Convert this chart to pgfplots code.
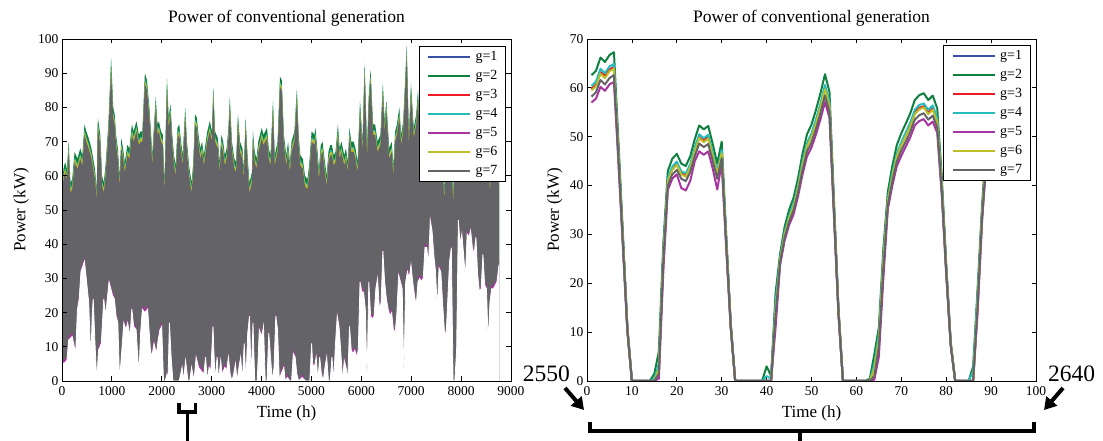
\documentclass[border=0pt]{standalone}
\usepackage{fontspec}
\setmainfont{Liberation Serif}
\usepackage{pgfplots}
\pgfplotsset{compat=1.18}
\usepackage{pgfplotstable}
\usetikzlibrary{arrows.meta}

\definecolor{cA}{RGB}{56,80,168}
\definecolor{cB}{RGB}{16,128,64}
\definecolor{cC}{RGB}{237,28,36}
\definecolor{cD}{RGB}{38,188,188}
\definecolor{cE}{RGB}{168,52,160}
\definecolor{cF}{RGB}{190,190,40}
\definecolor{cG}{RGB}{100,100,104}

\newcommand{\tickfont}{\fontsize{13.5bp}{15bp}\selectfont}
\newcommand{\labfont}{\fontsize{17bp}{20bp}\selectfont}
\newcommand{\titfont}{\fontsize{17.5bp}{20bp}\selectfont}
\newcommand{\legfont}{\fontsize{14bp}{16bp}\selectfont}
\newcommand{\bigfont}{\fontsize{23.5bp}{26bp}\selectfont}

% upper envelope of the 8760-h series: G=g2 (green), C=g4 (cyan), Y=g6 (yellow), K=g7 (grey)
\pgfplotstableread{
t G C Y K
0 55 53.4 53 52
28 62 60.4 60 59
63 64 62.4 62 61
99 62 60.4 60 59
134 70 68.4 68 67
169 58 56.4 56 55
204 59 57.4 57 56
253 67 65.4 65 64
310 65 63.4 63 62
366 68 66.4 66 65
408 66 64.4 64 63
450 75 73.4 73 72
486 73 71.4 71 70
535 71 69.4 69 68
591 68 66.4 66 65
626 65 63.4 63 62
661 62 60.4 60 59
697 56 54.4 54 53
718 77 75.4 75 74
767 72 70.4 70 69
802 60 58.4 58 57
837 58 56.4 56 55
873 63 61.4 61 60
929 75 73.4 73 72
985 94.5 92.4 91.9 90.5
1027 80 78.4 78 77
1056 78 76.4 76 75
1084 72 70.4 70 69
1119 68 66.4 66 65
1154 60 58.4 58 57
1189 71 69.4 69 68
1224 68 66.4 66 65
1260 64 62.4 62 61
1309 69 67.4 67 66
1351 68 66.4 66 65
1400 75 73.4 73 72
1436 73 71.4 71 70
1492 76 74.4 74 73
1541 72 70.4 70 69
1576 73 71.4 71 70
1611 73 71.4 71 70
1661 90 88.4 88 87
1703 88 86.4 86 85
1752 80 78.4 78 77
1787 72 70.4 70 69
1808 66 64.4 64 63
1837 73 71.4 71 70
1879 83 81.4 81 80
1914 75 73.4 73 72
1942 76 74.4 74 73
1984 73 71.4 71 70
2020 72 70.4 70 69
2055 58 56.4 56 55
2104 88.5 86.9 86.5 85.5
2139 77 75.4 75 74
2174 81 79.4 79 78
2210 72 70.4 70 69
2245 66 64.4 64 63
2280 63 61.4 61 60
2315 74 72.4 72 71
2350 75 73.4 73 72
2386 70 68.4 68 67
2421 66 64.4 64 63
2470 80 78.4 78 77
2505 70 68.4 68 67
2547 63 61.4 61 60
2597 58 56.4 56 55
2632 64 62.4 62 61
2667 78 76.4 76 75
2702 77 75.4 75 74
2737 72 70.4 70 69
2773 68 66.4 66 65
2808 70 68.4 68 67
2843 66 64.4 64 63
2913 73 71.4 71 70
2963 76 74.4 74 73
3005 73 71.4 71 70
3033 86 84.4 84 83
3068 73 71.4 71 70
3124 71 69.4 69 68
3160 64 62.4 62 61
3195 72 70.4 70 69
3230 70 68.4 68 67
3265 66 64.4 64 63
3300 68 66.4 66 65
3336 74 72.4 72 71
3364 83 81.4 81 80
3406 70 68.4 68 67
3455 65 63.4 63 62
3490 64 62.4 62 61
3526 78 76.4 76 75
3568 70 68.4 68 67
3617 68 66.4 66 65
3645 62 60.4 60 59
3680 77 75.4 75 74
3723 65 63.4 63 62
3758 58 56.4 56 55
3807 61 59.4 59 58
3828 73 71.4 71 70
3863 67 65.4 65 64
3899 65 63.4 63 62
3934 70 68.4 68 67
3969 72 70.4 70 69
4004 74 72.4 72 71
4039 72 70.4 70 69
4074 73 71.4 71 70
4110 74 72.4 72 71
4145 68 66.4 66 65
4180 66 64.4 64 63
4229 82 80.4 80 79
4264 66 64.4 64 63
4321 70 68.4 68 67
4370 89 87.4 87 86
4405 88 86.4 86 85
4447 72 70.4 70 69
4497 66 64.4 64 63
4532 70 68.4 68 67
4567 64 62.4 62 61
4602 70 68.4 68 67
4659 73 71.4 71 70
4708 85.5 83.9 83.5 82.5
4743 72 70.4 70 69
4778 66 64.4 64 63
4827 65 63.4 63 62
4870 60 58.4 58 57
4919 59 57.4 57 56
4954 63 61.4 61 60
5003 73 71.4 71 70
5060 72 70.4 70 69
5081 74 72.4 72 71
5116 68 66.4 66 65
5151 62 60.4 60 59
5187 69 67.4 67 66
5222 70 68.4 68 67
5271 64 62.4 62 61
5306 60 58.4 58 57
5341 67 65.4 65 64
5376 69 67.4 67 66
5411 69 67.4 67 66
5447 66 64.4 64 63
5482 67 65.4 65 64
5531 75 73.4 73 72
5566 68 66.4 66 65
5601 70 68.4 68 67
5658 66 64.4 64 63
5693 68 66.4 66 65
5728 64 62.4 62 61
5763 74 72.4 72 71
5798 70 68.4 68 67
5848 70 68.4 68 67
5883 68 66.4 66 65
5925 64 62.4 62 61
5974 82 80.4 80 79
6024 70 68.4 68 67
6066 93 91.4 91 90
6115 68 66.4 66 65
6150 84 82.4 82 81
6186 91 89.4 89 88
6235 75 73.4 73 72
6277 75 73.4 73 72
6326 70 68.4 68 67
6383 72 70.4 70 69
6432 87 85.4 85 84
6467 76 74.4 74 73
6502 82 80.4 80 79
6558 68 66.4 66 65
6608 70 68.4 68 67
6643 63 61.4 61 60
6678 73 71.4 71 70
6713 75 73.4 73 72
6762 80 78.4 78 77
6798 72 70.4 70 69
6840 76 74.4 74 73
6910 98 96.4 96 95
6953 72 70.4 70 69
6995 87 85.4 85 84
7051 74 72.4 72 71
7100 78 76.4 76 75
7136 85 83.4 83 82
7171 75 73.4 73 72
7206 74 72.4 72 71
7241 70 68.4 68 67
7276 62 60.4 60 59
7311 75 73.4 73 72
7347 66 64.4 64 63
7382 72 70.4 70 69
7417 64 62.4 62 61
7452 78 76.4 76 75
7487 68 66.4 66 65
7522 73 71.4 71 70
7558 65 63.4 63 62
7593 70 68.4 68 67
7628 66 64.4 64 63
7663 56 54.4 54 53
7698 68 66.4 66 65
7734 74 72.4 72 71
7769 64 62.4 62 61
7804 70 68.4 68 67
7839 55 53.4 53 52
7874 66 64.4 64 63
7910 72 70.4 70 69
7945 80 78.4 78 77
7980 70 68.4 68 67
8015 76 74.4 74 73
8050 68 66.4 66 65
8086 72 70.4 70 69
8121 63 61.4 61 60
8156 74 72.4 72 71
8191 69 67.4 67 66
8226 77 75.4 75 74
8261 66 64.4 64 63
8297 72 70.4 70 69
8332 64 62.4 62 61
8367 70 68.4 68 67
8402 75 73.4 73 72
8437 68 66.4 66 65
8473 72 70.4 70 69
8508 63 61.4 61 60
8543 70 68.4 68 67
8578 58 56.4 56 55
8613 68 66.4 66 65
8649 72 70.4 70 69
8684 65 63.4 63 62
8719 70 68.4 68 67
8760 60 58.4 58 57
}\upenv

% lower envelope: L=g7 (grey), M=g5 (magenta)
\pgfplotstableread{
t L M
0 7 6
28 6 5
99 7 6
134 13 12
204 14 13
274 9 8
310 22 21
345 25 24
380 33 32
450 36 35
486 31 30
535 24 23
577 7 6
605 20 19
626 25 24
661 12 11
697 0 0
732 10 9
788 12 11
837 25 24
873 20 19
908 25 24
943 30 29
978 28 27
1013 26 25
1049 25 24
1084 20 19
1119 18 17
1154 0 0
1239 18 17
1281 16 15
1316 18 17
1365 14 13
1400 22 21
1436 17 16
1485 16 15
1541 3 2
1576 15 14
1611 22 21
1661 21 20
1717 22 21
1773 10 9
1801 8 7
1844 12 11
1893 9 8
1928 13 12
1963 16 15
1999 17 16
2034 0 0
2069 0 0
2104 3 2
2125 0 0
2153 18 17
2188 8 7
2224 0 0
2259 0 0
2315 0 0
2350 0 0
2407 5 4
2435 0 0
2477 7 6
2526 0 0
2561 0 0
2597 5 4
2646 0 0
2688 8 7
2737 5 4
2787 4 3
2843 3 2
2878 8 7
2913 0 0
2949 5 4
2984 4 3
3026 17 16
3068 0 0
3110 8 7
3138 0 0
3181 7 6
3209 3 2
3265 5 4
3300 4 3
3336 8 7
3371 3 2
3406 0 0
3441 3 2
3476 6 5
3511 0 0
3547 5 4
3582 8 7
3617 0 0
3652 12 11
3687 0 0
3723 15 14
3758 20 19
3793 0 0
3828 18 17
3863 0 0
3913 0 0
3955 16 15
4004 14 13
4039 17 16
4074 0 0
4110 0 0
4145 15 14
4180 8 7
4215 0 0
4250 5 4
4286 20 19
4321 16 15
4356 0 0
4391 3 2
4447 5 4
4475 0 0
4518 2 1
4567 0 0
4602 0 0
4637 9 8
4673 8 7
4708 3 2
4743 0 0
4813 2 1
4884 0 0
4968 0 0
5003 12 11
5024 6 5
5060 5 4
5095 8 7
5130 0 0
5165 8 7
5200 3 2
5236 0 0
5271 5 4
5306 8 7
5341 0 0
5376 0 0
5411 8 7
5447 0 0
5482 12 11
5517 20 19
5552 17 16
5587 10 9
5623 0 0
5658 7 6
5693 5 4
5728 0 0
5763 17 16
5798 10 9
5834 9 8
5869 10 9
5904 8 7
5939 10 9
5974 30 29
6010 27 26
6045 27 26
6080 22 21
6115 0 0
6150 30 29
6186 20 19
6221 19 18
6256 20 19
6291 28 27
6326 31 30
6361 22 21
6397 24 23
6432 39 38
6467 30 29
6502 25 24
6537 22 21
6573 20 19
6608 21 20
6643 16 15
6678 15 14
6713 21 20
6748 32 31
6784 30 29
6819 28 27
6854 2 1
6889 30 29
6925 33 32
6960 31 30
6995 35 34
7030 30 29
7065 26 25
7100 23 22
7136 30 29
7171 31 30
7206 30 29
7241 31 30
7276 40 39
7311 40 39
7347 35 34
7382 48 47
7417 45 44
7452 38 37
7487 33 32
7522 22 21
7558 34 33
7593 33 32
7628 24 23
7663 16 15
7698 14 13
7734 25 24
7769 36 35
7804 40 39
7839 0 0
7874 0 0
7910 10 9
7945 48 47
7980 41 40
8015 44 43
8050 38 37
8086 31 30
8121 44 43
8156 43 42
8191 45 44
8226 40 39
8261 38 37
8297 43 42
8332 32 31
8367 27 26
8402 28 27
8437 38 37
8473 29 28
8508 28 27
8543 12 11
8578 24 23
8613 28 27
8649 28 27
8684 29 28
8719 30 29
8760 35 34
}\lowenv

% hours 2550-2640
\pgfplotstableread{
x g1 g2 g3 g4 g5 g6 g7
1 59.8 62.6 59.8 60.4 57.0 59.5 58.2
2 60.6 63.5 60.6 61.3 57.8 60.3 59.1
3 63.2 66.2 63.2 63.9 60.2 62.9 61.6
4 62.4 65.3 62.4 63.0 59.4 62.0 60.7
5 63.7 66.7 63.7 64.4 60.7 63.4 62.0
6 64.3 67.3 64.3 64.9 61.2 63.9 62.6
7 46.8 49 46.8 47.3 44.6 46.6 45.6
8 28.7 30 28.7 29.0 27.3 28.5 27.9
9 10.5 11 10.5 10.6 10.0 10.5 10.2
10 0 0 0 0 0 0 0
11 0 0 0 0 0 0 0
12 0 0 0 0 0 0 0
13 0 0 0 0 0 0 0
14 0 0 0 0 0 0 0
15 0 1.5 0 0.5 0 0 0
16 2.5 6 2.5 3.5 0.5 2.5 1.5
17 26 28 26 26.5 22.5 25.5 24.5
18 41.1 43 41.1 41.5 39.1 40.9 40.0
19 43.5 45.5 43.5 43.9 41.4 43.2 42.3
20 44.4 46.5 44.4 44.9 42.3 44.2 43.2
21 42.5 44.5 42.5 42.9 39.5 42.3 41.4
22 42.0 44 42.0 42.5 39.0 41.8 40.9
23 43.9 46 43.9 44.4 41.0 43.7 42.8
24 47.3 49.5 47.3 47.8 45.0 47.0 46.0
25 49.9 52.3 49.9 50.5 47.0 49.7 48.6
26 49.2 51.5 49.2 49.7 46.3 48.9 47.9
27 49.9 52.2 49.9 50.4 47.0 49.6 48.5
28 46.3 48.5 46.3 46.8 43.5 46.1 45.1
29 42.5 44.5 42.5 42.9 39.2 42.3 41.4
30 46.8 49 46.8 47.3 44.6 46.6 45.6
31 28.7 30 28.7 29.0 27.3 28.5 27.9
32 11.5 12 11.5 11.6 10.9 11.4 11.2
33 0 0 0 0 0 0 0
34 0 0 0 0 0 0 0
35 0 0 0 0 0 0 0
36 0 0 0 0 0 0 0
37 0 0 0 0 0 0 0
38 0 0 0 0 0 0 0
39 0 0 0 0 0 0 0
40 0 3 0 1 0 0 0
41 0 1 0 0.5 0 0 0
42 15 18 15 16 11 14.5 13.5
43 24.8 26 24.8 25.1 23.7 24.7 24.2
44 30.1 31.5 30.1 30.4 28.7 29.9 29.3
45 33.4 35 33.4 33.8 31.9 33.3 32.6
46 35.8 37.5 35.8 36.2 34.1 35.6 34.9
47 39.6 41.5 39.6 40.0 37.8 39.4 38.6
48 44.4 46.5 44.4 44.9 42.3 44.2 43.2
49 48.2 50.5 48.2 48.7 46.0 48.0 47.0
50 50.1 52.5 50.1 50.7 47.8 49.9 48.8
51 53.0 55.5 53.0 53.6 50.5 52.7 51.6
52 56.2 58.9 56.2 56.8 53.6 56.0 54.8
53 60.0 62.8 60.0 60.6 57.1 59.7 58.4
54 56.5 59.2 56.5 57.1 53.9 56.2 55.1
55 35.3 37 35.3 35.7 33.7 35.2 34.4
56 14.3 15 14.3 14.5 13.7 14.3 14.0
57 0 0 0 0 0 0 0
58 0 0 0 0 0 0 0
59 0 0 0 0 0 0 0
60 0 0 0 0 0 0 0
61 0 0 0 0 0 0 0
62 0 0 0 0 0 0 0
63 0 0.5 0 0 0 0 0
64 2.5 5.5 2.5 3.5 0.3 2.5 1
65 9 11 9 9.5 5 8.5 7
66 25 27 25 25.5 21 24.5 23
67 37.0 38.7 37.0 37.3 35.2 36.8 36.0
68 42.0 44 42.0 42.5 40.0 41.8 40.9
69 46.1 48.3 46.1 46.6 44.0 45.9 44.9
70 48.4 50.7 48.4 48.9 46.1 48.2 47.2
71 50.3 52.7 50.3 50.9 48.0 50.1 49.0
72 52.3 54.8 52.3 52.9 49.9 52.1 51.0
73 54.9 57.5 54.9 55.5 52.3 54.6 53.5
74 55.9 58.5 55.9 56.5 53.2 55.6 54.4
75 56.2 58.9 56.2 56.8 53.6 56.0 54.8
76 54.9 57.5 54.9 55.5 52.3 54.6 53.5
77 55.8 58.4 55.8 56.4 53.1 55.5 54.3
78 53.3 55.8 53.3 53.8 50.8 53.0 51.9
79 40.1 42 40.1 40.5 38.2 39.9 39.1
80 22.9 24 22.9 23.2 21.8 22.8 22.3
81 7.6 8 7.6 7.7 7.3 7.6 7.4
82 0 0 0 0 0 0 0
83 0 0 0 0 0 0 0
84 0 0 0 0 0 0 0
85 0 0 0 0 0 0 0
86 0 3 0 2 0 0 0
87 17 19 17 18 14 16.5 15.5
88 34.4 36 34.4 34.7 32.8 34.2 33.5
89 47.8 50 47.8 48.3 45.5 47.5 46.5
90 57.3 60 57.3 57.9 54.6 57.0 55.8
}\zoomdata

\pgfplotsset{
  myax/.style={
    scale only axis, width=449bp, height=342bp, anchor=south west,
    axis line style={line width=0.9bp, black},
    tick align=inside, tick pos=both, major tick length=4.5bp,
    tick style={black, line width=0.8bp},
    tick label style={font=\tickfont},
    /pgf/number format/assume math mode=true,
    /pgf/number format/set thousands separator={},
    scaled ticks=false,
    xticklabel style={yshift=-2.2bp},
    title style={at={(axis description cs:0.5,1)}, anchor=base, yshift=10.7bp, inner sep=0pt, font=\titfont},
    xlabel style={at={(axis description cs:0.5,0)}, anchor=base, yshift=-36.3bp, inner sep=0pt, font=\labfont},
    ylabel style={anchor=base, inner sep=0pt, font=\labfont},
    title={Power of conventional generation},
    xlabel={Time (h)}, ylabel={Power (kW)},
    legend cell align=left,
    legend style={draw=black, line width=1.2bp, fill=white, font=\legfont, anchor=north east,
       inner xsep=8bp, inner ysep=4bp, row sep=6bp,
       nodes={inner sep=0pt, text height=9.5bp, text depth=3.5bp},
       /tikz/every odd column/.append style={column sep=4.4bp}},
    legend image code/.code={\draw[#1, line width=2bp] (0bp,0bp) -- (42bp,0bp);},
  }
}

\begin{document}
\begin{tikzpicture}
\useasboundingbox (0bp,0bp) rectangle (1103bp,441bp);

\begin{axis}[myax, at={(62bp,60bp)},
  xmin=0, xmax=9000, ymin=0, ymax=100,
  xtick={0,1000,...,9000}, ytick={0,10,...,100},
  axis on top,
  ylabel style={at={(axis description cs:-0.0813,0.5)}},
  legend style={at={(axis description cs:0.9889,0.9795)}}]
\addplot[draw=none, fill=cB, forget plot] table[x=t,y=G]{\upenv} \closedcycle;
\addplot[draw=none, fill=cD, forget plot] table[x=t,y=C]{\upenv} \closedcycle;
\addplot[draw=none, fill=cF, forget plot] table[x=t,y=Y]{\upenv} \closedcycle;
\addplot[draw=none, fill=cG, forget plot] table[x=t,y=K]{\upenv} \closedcycle;
\addplot[draw=none, fill=cE, forget plot] table[x=t,y=L]{\lowenv} \closedcycle;
\addplot[draw=white, line width=0.8bp, fill=white, forget plot] table[x=t,y=M]{\lowenv} \closedcycle;
\addlegendimage{cA}\addlegendentry{g=1}
\addlegendimage{cB}\addlegendentry{g=2}
\addlegendimage{cC}\addlegendentry{g=3}
\addlegendimage{cD}\addlegendentry{g=4}
\addlegendimage{cE}\addlegendentry{g=5}
\addlegendimage{cF}\addlegendentry{g=6}
\addlegendimage{cG}\addlegendentry{g=7}
\end{axis}

\begin{axis}[myax, at={(587bp,60bp)},
  xmin=0, xmax=100, ymin=0, ymax=70,
  xtick={0,10,...,100}, ytick={0,10,...,70},
  ylabel style={at={(axis description cs:-0.0624,0.5)}},
  legend style={at={(axis description cs:0.9882,0.9825)}},
  every axis plot/.append style={line width=2bp, line join=round}]
\addplot[cA] table[x=x,y=g1]{\zoomdata}; \addlegendentry{g=1}
\addplot[cB] table[x=x,y=g2]{\zoomdata}; \addlegendentry{g=2}
\addplot[cC] table[x=x,y=g3]{\zoomdata}; \addlegendentry{g=3}
\addplot[cD] table[x=x,y=g4]{\zoomdata}; \addlegendentry{g=4}
\addplot[cE] table[x=x,y=g5]{\zoomdata}; \addlegendentry{g=5}
\addplot[cF] table[x=x,y=g6]{\zoomdata}; \addlegendentry{g=6}
\addplot[cG] table[x=x,y=g7]{\zoomdata}; \addlegendentry{g=7}
\end{axis}

% brackets and arrows
\draw[line width=3.5bp] (178.8bp,38.3bp) -- (178.8bp,29bp) -- (195.5bp,29bp) -- (195.5bp,38.3bp);
\draw[line width=3.5bp] (187.3bp,29bp) -- (187.3bp,0bp);
\draw[line width=4.5bp] (590bp,19.3bp) -- (590bp,10bp) -- (1034bp,10bp) -- (1034bp,19.3bp);
\draw[line width=4.5bp] (800bp,10bp) -- (800bp,0bp);
\draw[line width=4bp, -{Triangle[length=12bp,width=14bp]}] (565bp,53bp) -- (584bp,31bp);
\draw[line width=4bp, -{Triangle[length=12bp,width=14bp]}] (1063bp,53bp) -- (1044bp,31bp);
\node[anchor=base west, inner sep=0pt, font=\bigfont] at (522.7bp,59.3bp) {2550};
\node[anchor=base west, inner sep=0pt, font=\bigfont] at (1048bp,59bp) {2640};
\end{tikzpicture}
\end{document}
